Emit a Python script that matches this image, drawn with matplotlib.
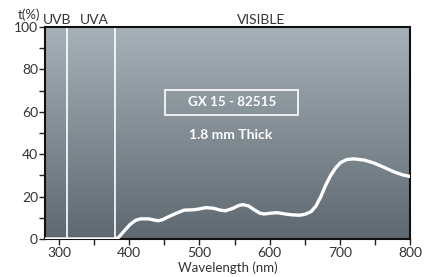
import numpy as np
import matplotlib
matplotlib.use("Agg")
import matplotlib.pyplot as plt
from matplotlib.patches import Rectangle
from matplotlib.colors import LinearSegmentedColormap

# Data
wavelength = [280, 300, 340, 370, 380, 385, 392, 401, 409, 416, 428, 436, 442,
              448, 454, 466, 478, 492, 500, 509, 520, 530, 537, 548, 556, 562,
              570, 578, 586, 592, 602, 611, 622, 632, 642, 650, 659, 666, 673,
              680, 687, 694, 701, 710, 720, 735, 749, 763, 777, 790, 800]
transmission = [0, 0, 0, 0, 0, 0.8, 3.5, 6.8, 8.8, 9.5, 9.5, 8.9, 8.6,
                9.2, 10.2, 12.0, 13.6, 13.8, 14.2, 14.8, 14.5, 13.6, 13.3, 14.5, 15.8, 16.2,
                15.6, 13.8, 12.2, 11.8, 12.2, 12.4, 11.8, 11.4, 11.2, 11.6, 12.9, 15.5, 20.0,
                25.5, 30.0, 33.5, 36.0, 37.5, 37.8, 37.2, 35.8, 33.8, 31.7, 30.2, 29.5]

uv_bounds = [311, 380]
region_labels = ["UVB", "UVA", "VISIBLE"]
region_label_x = [297, 350, 588]
xticks = [300, 400, 500, 600, 700, 800]
yticks = [0, 20, 40, 60, 80, 100]
product = "GX 15 - 82515"
thickness = "1.8 mm Thick"

plt.rcParams['font.family'] = ['Lato', 'DejaVu Sans']

fig = plt.figure(figsize=(4.34, 2.77), dpi=100)
ax = fig.add_axes([45/434, 38/277, 365/434, 212/277])
ax.set_xlim(280, 800)
ax.set_ylim(0, 100)

# gradient background
grad = np.linspace(0, 1, 256).reshape(-1, 1)
cmap = LinearSegmentedColormap.from_list("g", ["#5d6870", "#a6b1b8"])
ax.imshow(grad, extent=[280, 800, 0, 100], origin="lower", aspect="auto",
          cmap=cmap, zorder=0)

for xb in uv_bounds:
    ax.axvline(xb, color="white", lw=1.2, zorder=2)

ax.plot(wavelength, transmission, color="white", lw=2.4, zorder=3,
        solid_joinstyle="round", solid_capstyle="round")

ax.set_xticks(xticks)
ax.set_yticks(yticks)
ax.set_xticks([350, 450, 550, 650, 750], minor=True)
ax.set_yticks([10, 30, 50, 70, 90], minor=True)
ax.tick_params(axis="both", which="major", length=4, width=1, labelsize=10,
               colors="#222222", labelcolor="#333333")
ax.tick_params(axis="both", which="minor", length=4, width=1, colors="#222222")
ax.tick_params(axis="x", pad=2)
ax.tick_params(axis="y", pad=1)
for s in ax.spines.values():
    s.set_linewidth(1.5)
    s.set_color("#111111")

ax.set_xlabel("Wavelength (nm)", fontsize=9.5, color="#333333", labelpad=1.5)

fig.text(29/434, 1 - 14.5/277, "t(%)", fontsize=9.5, color="#333333",
         ha="center", va="center")
for lbl, lx in zip(region_labels, region_label_x):
    ax.text(lx, 103.2, lbl, fontsize=10, color="#333333", ha="center",
            va="center", transform=ax.transData, clip_on=False)

ax.add_patch(Rectangle((451, 58.5), 190, 11.8,
                       fill=False, edgecolor="white", lw=1.2, zorder=4))
ax.text(546, 64.4, product, fontsize=9.6, fontweight="bold", color="white",
        ha="center", va="center", zorder=4)
ax.text(544, 49.2, thickness, fontsize=10, fontweight="bold", color="white",
        ha="center", va="center", zorder=4)

fig.savefig("out.png", dpi=100)
